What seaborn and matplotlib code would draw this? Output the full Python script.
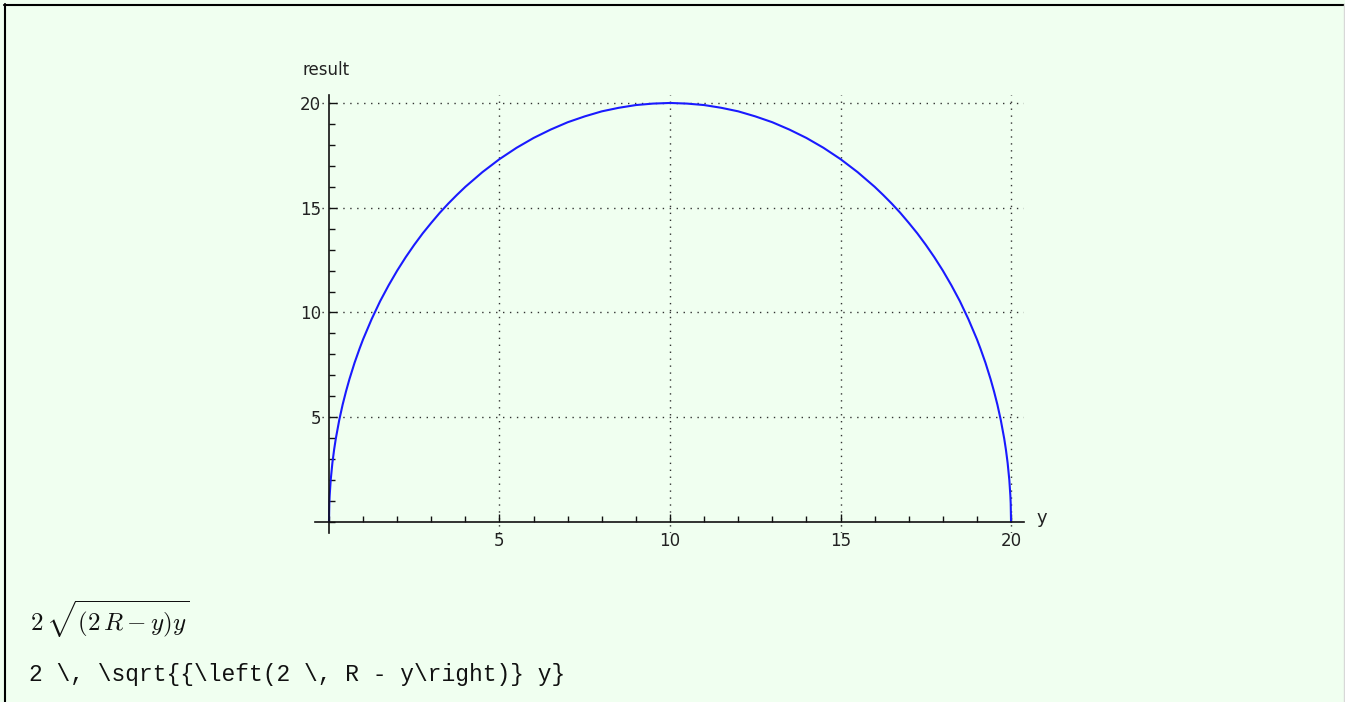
import matplotlib
matplotlib.use("Agg")
import matplotlib.pyplot as plt
from matplotlib.lines import Line2D
from matplotlib.ticker import MultipleLocator, FixedLocator
import pandas as pd
import seaborn as sns

# Sampled points of the curve: y position and resulting value
y_vals = [0, 0.01, 0.02, 0.05, 0.1, 0.15, 0.2, 0.3, 0.4, 0.5, 0.6, 0.75, 0.9,
          1, 1.25, 1.5, 1.75, 2, 2.25, 2.5, 2.75, 3, 3.25, 3.5, 3.75, 4, 4.5,
          5, 5.5, 6, 6.5, 7, 7.5, 8, 8.5, 9, 9.5, 10,
          10.5, 11, 11.5, 12, 12.5, 13, 13.5, 14, 14.5, 15, 15.5,
          16, 16.25, 16.5, 16.75, 17, 17.25, 17.5, 17.75, 18, 18.25, 18.5, 18.75,
          19, 19.1, 19.25, 19.4, 19.5, 19.6, 19.7, 19.8, 19.85, 19.9, 19.95, 19.98, 19.99, 20]
result_vals = [0, 0.89, 1.26, 2.00, 2.82, 3.45, 3.98, 4.86, 5.60, 6.24, 6.82, 7.60, 8.29,
               8.72, 9.68, 10.54, 11.30, 12.00, 12.64, 13.23, 13.78, 14.28, 14.76, 15.20, 15.61, 16.00, 16.70,
               17.32, 17.86, 18.33, 18.73, 19.08, 19.36, 19.60, 19.77, 19.90, 19.97, 20.00,
               19.97, 19.90, 19.77, 19.60, 19.36, 19.08, 18.73, 18.33, 17.86, 17.32, 16.70,
               16.00, 15.61, 15.20, 14.76, 14.28, 13.78, 13.23, 12.64, 12.00, 11.30, 10.54, 9.68,
               8.72, 8.29, 7.60, 6.82, 6.24, 5.60, 4.86, 3.98, 3.45, 2.82, 2.00, 1.26, 0.89, 0]

x_ticks = [5, 10, 15, 20]
y_ticks = [5, 10, 15, 20]
x_label = "y"
y_label = "result"
formula_math = r"$2\,\sqrt{(2\,R - y)y}$"
formula_tex = r"2 \, \sqrt{{\left(2 \, R - y\right)} y}"

df = pd.DataFrame({"y": y_vals, "result": result_vals})

sns.set_style("white")
plt.rcParams["font.family"] = ["DejaVu Sans"]
plt.rcParams["mathtext.fontset"] = "cm"

bg = "#f0fff0"
fig = plt.figure(figsize=(13.45, 7.02), dpi=100, facecolor=bg)
ax = fig.add_axes([315 / 1345, 1 - 532.5 / 702, (1024 - 315) / 1345, (532.5 - 95) / 702])
ax.set_facecolor("none")

sns.lineplot(data=df, x="y", y="result", sort=False, color="#1a1aff", lw=1.5, ax=ax)

ax.set_xlim(-0.41, 20.38)
ax.set_ylim(-0.5, 20.38)

# axes crossing at the origin
for side in ("top", "right"):
    ax.spines[side].set_visible(False)
ax.spines["left"].set_position(("data", 0))
ax.spines["bottom"].set_position(("data", 0))
for side in ("left", "bottom"):
    ax.spines[side].set_color("#111111")
    ax.spines[side].set_linewidth(1.2)

ax.xaxis.set_major_locator(FixedLocator(x_ticks))
ax.yaxis.set_major_locator(FixedLocator(y_ticks))
ax.xaxis.set_minor_locator(MultipleLocator(1))
ax.yaxis.set_minor_locator(MultipleLocator(1))
ax.tick_params(which="major", direction="in", length=6, width=1, color="#111111",
               labelsize=12, labelcolor="#222222")
ax.tick_params(axis="x", which="major", pad=7)
ax.tick_params(axis="y", which="major", pad=5.5)
ax.tick_params(which="minor", direction="in", length=4, width=1, color="#111111")
ax.tick_params(axis="x", which="both", bottom=True)
ax.tick_params(axis="y", which="both", left=True)

ax.grid(True, which="major", linestyle=(0, (1, 4)), color="#333333", linewidth=1)
ax.set_xlabel("")
ax.set_ylabel("")

fig.text(302 / 1345, 1 - 70 / 702, y_label, fontsize=12, color="#222222", ha="left", va="center")
fig.text(1037 / 1345, 1 - 518 / 702, x_label, fontsize=13, color="#222222", ha="left", va="center")

fig.text(30 / 1345, 1 - 619 / 702, formula_math, fontsize=18, color="#111111", ha="left", va="center")
fig.text(29 / 1345, 1 - 674 / 702, formula_tex, fontsize=16.5, color="#111111",
         family="Liberation Mono", ha="left", va="center")

# page frame
fig.add_artist(Line2D([4 / 1345, 1], [1 - 4.5 / 702] * 2, transform=fig.transFigure, color="black", lw=1.5))
fig.add_artist(Line2D([4.5 / 1345] * 2, [0, 1 - 4 / 702], transform=fig.transFigure, color="black", lw=1.5))
fig.add_artist(Line2D([1343.5 / 1345] * 2, [0, 1 - 4 / 702], transform=fig.transFigure, color="#d8d8d8", lw=1))

fig.savefig("out.png", dpi=100, facecolor=bg)
